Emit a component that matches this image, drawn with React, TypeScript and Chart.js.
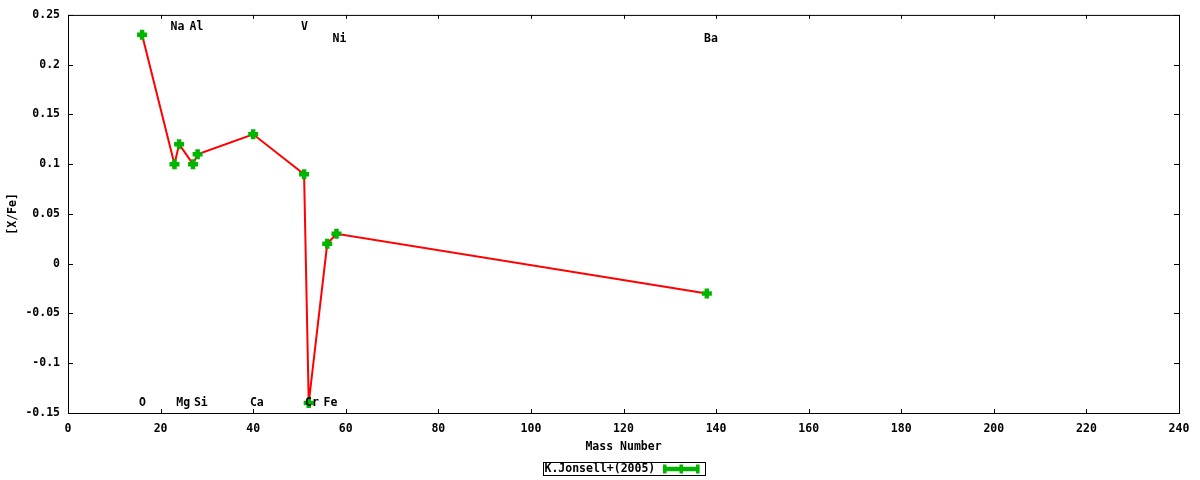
import React, { useEffect, useRef } from "react";
import { Chart, registerables } from "chart.js";

Chart.register(...registerables);

const elements = ["O", "Na", "Mg", "Al", "Si", "Ca", "V", "Cr", "Fe", "Ni", "Ba"];
const massNumbers = [16, 23, 24, 27, 28, 40, 51, 52, 56, 58, 138];
const xFeValues = [0.23, 0.1, 0.12, 0.1, 0.11, 0.13, 0.09, -0.14, 0.02, 0.03, -0.03];
const labelX = [16.1, 23.65, 24.9, 27.76, 28.7, 40.8, 51.1, 52.7, 56.7, 58.65, 138.9];
const labelY = [-0.14, 0.2375, -0.14, 0.2375, -0.14, -0.14, 0.2375, -0.14, -0.14, 0.226, 0.226];
const xTicks = [0, 20, 40, 60, 80, 100, 120, 140, 160, 180, 200, 220, 240];
const yTicks = [-0.15, -0.1, -0.05, 0, 0.05, 0.1, 0.15, 0.2, 0.25];
const seriesName = "K.Jonsell+(2005)";
const xTitle = "Mass Number";
const yTitle = "[X/Fe]";

const FONT_FAMILY = "'DejaVu Sans Mono', 'Liberation Mono', monospace";
const GREEN = "#00b400";

const overlayPlugin = {
  id: "gnuplotOverlay",
  afterDatasetsDraw(chart: any) {
    const { ctx, chartArea, scales } = chart;
    const { left, right, top, bottom } = chartArea;
    const xs = scales.x;
    const ys = scales.y;
    ctx.save();
    ctx.strokeStyle = "#000";
    ctx.lineWidth = 1;
    ctx.strokeRect(left + 0.5, top + 0.5, right - left, bottom - top);
    const tl = 4;
    ctx.beginPath();
    xTicks.forEach((v) => {
      const px = Math.round(xs.getPixelForValue(v)) + 0.5;
      ctx.moveTo(px, bottom);
      ctx.lineTo(px, bottom - tl);
      ctx.moveTo(px, top);
      ctx.lineTo(px, top + tl);
    });
    yTicks.forEach((v) => {
      const py = Math.round(ys.getPixelForValue(v)) + 0.5;
      ctx.moveTo(left, py);
      ctx.lineTo(left + tl + 1, py);
      ctx.moveTo(right, py);
      ctx.lineTo(right - tl - 1, py);
    });
    ctx.stroke();

    ctx.fillStyle = "#000";
    ctx.font = `bold 11.5px ${FONT_FAMILY}`;
    ctx.textAlign = "center";
    ctx.textBaseline = "middle";
    elements.forEach((el, i) => {
      ctx.fillText(el, xs.getPixelForValue(labelX[i]), ys.getPixelForValue(labelY[i]));
    });
    ctx.restore();
  },
  afterDraw(chart: any) {
    const { ctx, chartArea } = chart;
    const cx = (chartArea.left + chartArea.right) / 2;
    ctx.save();
    ctx.font = `bold 11.5px ${FONT_FAMILY}`;
    const tw = ctx.measureText(seriesName).width;
    const sampleW = 36;
    const boxW = Math.round(1 + tw + 8 + sampleW + 6);
    const boxX = Math.round(cx - boxW / 2) + 0.5;
    const boxY = 462.5;
    const boxH = 13;
    ctx.strokeStyle = "#000";
    ctx.lineWidth = 1;
    ctx.strokeRect(boxX, boxY, boxW, boxH);
    ctx.fillStyle = "#000";
    ctx.textAlign = "left";
    ctx.textBaseline = "middle";
    ctx.fillText(seriesName, boxX + 1, boxY + boxH / 2 + 0.5);
    const sx0 = boxX + 1 + tw + 8;
    const sx1 = sx0 + sampleW;
    const sy = boxY + boxH / 2;
    ctx.strokeStyle = GREEN;
    ctx.lineWidth = 4.5;
    ctx.beginPath();
    ctx.moveTo(sx0, sy);
    ctx.lineTo(sx1, sy);
    ctx.stroke();
    ctx.lineWidth = 3.5;
    ctx.beginPath();
    [sx0 + 1.5, (sx0 + sx1) / 2, sx1 - 1.5].forEach((x) => {
      ctx.moveTo(x, sy - 4.5);
      ctx.lineTo(x, sy + 4.5);
    });
    ctx.stroke();
    ctx.restore();
  },
};

export default function App() {
  const canvasRef = useRef<HTMLCanvasElement | null>(null);

  useEffect(() => {
    document.body.style.margin = "0";
    const canvas = canvasRef.current;
    if (!canvas) return;
    const tickFont = { family: FONT_FAMILY, size: 11.5, weight: "bold" as const };
    const chart = new Chart(canvas, {
      type: "line",
      data: {
        datasets: [
          {
            label: seriesName,
            data: massNumbers.map((m, i) => ({ x: m, y: xFeValues[i] })),
            borderColor: "#ff0000",
            borderWidth: 2,
            tension: 0,
            fill: false,
            pointStyle: "cross",
            pointRadius: 5,
            pointBorderWidth: 4.5,
            pointBorderColor: GREEN,
            pointBackgroundColor: GREEN,
          },
        ],
      },
      options: {
        responsive: false,
        animation: false,
        maintainAspectRatio: false,
        layout: { padding: { left: 0, right: 21, top: 13, bottom: 20 } },
        plugins: {
          legend: { display: false },
          tooltip: { enabled: false },
        },
        scales: {
          x: {
            type: "linear",
            min: 0,
            max: 240,
            afterBuildTicks: (scale: any) => {
              scale.ticks = xTicks.map((v) => ({ value: v }));
            },
            afterFit: (scale: any) => {
              scale.height = 47;
            },
            grid: { display: false, drawTicks: false },
            border: { display: false },
            ticks: {
              color: "#000",
              font: tickFont,
              padding: 9,
              maxRotation: 0,
              autoSkip: false,
              callback: (v: any) => String(v),
            },
            title: {
              display: true,
              text: xTitle,
              color: "#000",
              font: tickFont,
              padding: { top: 0, bottom: 6 },
            },
          },
          y: {
            type: "linear",
            min: -0.15,
            max: 0.25,
            afterBuildTicks: (scale: any) => {
              scale.ticks = yTicks.map((v) => ({ value: v }));
            },
            afterFit: (scale: any) => {
              scale.width = 68;
            },
            grid: { display: false, drawTicks: false },
            border: { display: false },
            ticks: {
              color: "#000",
              font: tickFont,
              padding: 8,
              autoSkip: false,
              callback: (v: any) => String(Number(Number(v).toFixed(2))),
            },
            title: {
              display: true,
              text: yTitle,
              color: "#000",
              font: tickFont,
              padding: { top: 6, bottom: 0 },
            },
          },
        },
      },
      plugins: [overlayPlugin],
    });
    return () => chart.destroy();
  }, []);

  return (
    <div style={{ width: 1200, height: 480, background: "#fff" }}>
      <canvas ref={canvasRef} width={1200} height={480} style={{ display: "block" }} />
    </div>
  );
}
